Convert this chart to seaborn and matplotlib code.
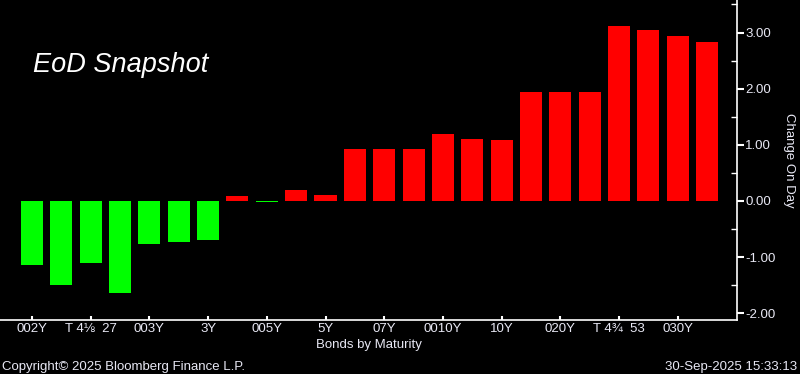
import matplotlib
matplotlib.use("Agg")
import matplotlib.pyplot as plt
import seaborn as sns
import pandas as pd
import numpy as np

# ---- data ----
positions = list(range(24))
tick_labels = ["002Y", "", "T 4\u215b  27", "", "003Y", "", "3Y", "",
               "005Y", "", "5Y", "", "07Y", "", "0010Y", "", "10Y", "",
               "020Y", "", "T 4\u00be  53", "", "030Y", ""]
changes = [-1.14, -1.49, -1.10, -1.64, -0.76, -0.73, -0.69, 0.09,
           -0.02, 0.20, 0.11, 0.93, 0.93, 0.93, 1.19, 1.10, 1.09, 1.94,
           1.94, 1.94, 3.11, 3.04, 2.94, 2.83]

sns.set_theme(style="dark")
plt.rcParams['font.family'] = ['Liberation Sans', 'DejaVu Sans']

df = pd.DataFrame({"pos": positions, "change": changes})
df["sign"] = np.where(df["change"] < 0, "neg", "pos")

fig = plt.figure(figsize=(8.0, 3.74), dpi=100, facecolor="black")
ax = fig.add_axes([0.0, 54/374, 737/800, 320/374])
ax.set_facecolor("black")

sns.barplot(data=df, x="pos", y="change", hue="sign",
            palette={"neg": "#00ff00", "pos": "#ff0000"},
            order=positions, hue_order=["neg", "pos"],
            width=0.75, dodge=False, legend=False, ax=ax,
            saturation=1, linewidth=0)

ax.set_xlim(-1.09, 24.02)
ax.set_ylim(-2.12, 3.58)

label_color = "#e8e8f4"
ax.grid(False)
for s in ["top", "left"]:
    ax.spines[s].set_visible(False)
for s in ["bottom", "right"]:
    ax.spines[s].set_visible(True)
    ax.spines[s].set_color("white")
    ax.spines[s].set_linewidth(1.2)

idx = [i for i, t in enumerate(tick_labels) if t]
ax.set_xticks(idx)
ax.set_xticklabels([tick_labels[i] for i in idx])
ax.tick_params(axis="x", direction="in", length=3, width=1.5, color="white",
               labelcolor=label_color, labelsize=9.5, pad=2, bottom=True)

ax.yaxis.tick_right()
ax.yaxis.set_label_position("right")
ax.set_yticks([-2, -1, 0, 1, 2, 3])
ax.set_yticklabels([f"{v:.2f}" for v in [-2, -1, 0, 1, 2, 3]])
ax.set_yticks(np.arange(-1.5, 3.6, 1.0), minor=True)
ax.tick_params(axis="y", which="major", direction="out", length=5, width=1.5,
               color="white", labelcolor=label_color, labelsize=9.5, pad=1,
               right=True, left=False)
ax.tick_params(axis="y", which="minor", direction="in", length=4, width=1,
               color="white", right=True, left=False)

ax.set_xlabel("Bonds by Maturity", color=label_color, fontsize=9.5, labelpad=3)
ax.set_ylabel("Change On Day", color=label_color, fontsize=9.5, rotation=270,
              labelpad=14)

fig.text(33/800, 1 - 65/374, "EoD Snapshot", color="white", fontsize=19.5,
         style="italic", va="center", ha="left")
fig.text(2/800, 1 - 367/374, "Copyright\u00a9 2025 Bloomberg Finance L.P.",
         color=label_color, fontsize=9.5, va="center", ha="left")
fig.text(797/800, 1 - 367/374, "30-Sep-2025 15:33:13",
         color=label_color, fontsize=9.5, va="center", ha="right")

fig.savefig("out.png", dpi=100, facecolor="black")
